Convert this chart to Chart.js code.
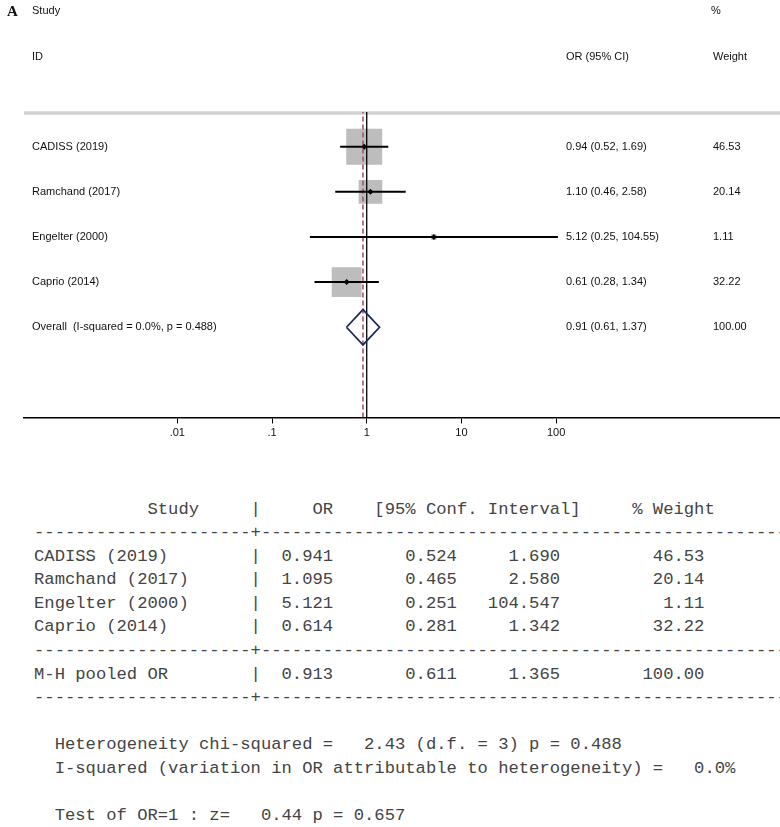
<!DOCTYPE html>
<html>
<head>
<meta charset="utf-8">
<script src="https://cdn.jsdelivr.net/npm/chart.js@4.4.1/dist/chart.umd.min.js"></script>
<style>
  html, body { margin: 0; padding: 0; background: #fff; }
  #wrap { position: relative; width: 780px; height: 827px; overflow: hidden; }
  #forest { position: absolute; left: 0; top: 0; }
  #stata {
    position: absolute; left: 34px; top: 497.5px; margin: 0;
    font-family: "Liberation Mono", "Courier New", monospace;
    font-size: 17.2px; line-height: 23.6px; color: #444; white-space: pre;
  }
</style>
</head>
<body>
<div id="wrap">
  <canvas id="forest" width="780" height="445"></canvas>
  <pre id="stata"></pre>
</div>
<script>
// study data (odds ratios, 95% CI, % weight)
const studies = ['CADISS (2019)', 'Ramchand (2017)', 'Engelter (2000)', 'Caprio (2014)'];
const oddsRatio = [0.941, 1.095, 5.121, 0.614];
const lowerCI = [0.524, 0.465, 0.251, 0.281];
const upperCI = [1.690, 2.580, 104.547, 1.342];
const weights = [46.53, 20.14, 1.11, 32.22];
const ciText = ['0.94 (0.52, 1.69)', '1.10 (0.46, 2.58)', '5.12 (0.25, 104.55)', '0.61 (0.28, 1.34)'];

// pooled estimate
const pooledLabel = 'M-H pooled OR';
const pooledOR = 0.913;
const pooledLower = 0.611;
const pooledUpper = 1.365;
const pooledWeight = 100.00;
const pooledText = '0.91 (0.61, 1.37)';

// heterogeneity / test
const chi2 = 2.43, dfHet = 3, pHet = 0.488, iSquared = 0.0;
const zTest = 0.44, pTest = 0.657;

// axis
const xTicks = [0.01, 0.1, 1, 10, 100];
const xTickLabels = ['.01', '.1', '1', '10', '100'];

const X_MIN = Math.pow(10, -3.619);
const X_MAX = Math.pow(10, 4.364);
const Y_MAX = 6.77;
const DIAMOND_H = 0.39;
const SANS = '"Liberation Sans", Arial, sans-serif';

const rowOf = i => studies.length + 2 - i;   // top row first
const pooledRow = 2;

const boxData = studies.map((s, i) => ({ x: oddsRatio[i], y: rowOf(i) }));
const ciData = [];
studies.forEach((s, i) => {
  ciData.push({ x: lowerCI[i], y: rowOf(i) }, { x: upperCI[i], y: rowOf(i) }, { x: null, y: null });
});
const diamondData = [
  { x: pooledLower, y: pooledRow },
  { x: pooledOR, y: pooledRow + DIAMOND_H },
  { x: pooledUpper, y: pooledRow },
  { x: pooledOR, y: pooledRow - DIAMOND_H },
  { x: pooledLower, y: pooledRow }
];

const forestText = {
  id: 'forestText',
  beforeDatasetsDraw(chart) {
    const { ctx, chartArea } = chart;
    ctx.save();
    ctx.strokeStyle = '#d2d2d2';
    ctx.lineWidth = 3.5;
    ctx.beginPath();
    ctx.moveTo(chartArea.left, chartArea.top + 1);
    ctx.lineTo(chartArea.right, chartArea.top + 1);
    ctx.stroke();
    ctx.restore();
  },
  afterDraw(chart) {
    const ctx = chart.ctx;
    const y = chart.scales.y;
    ctx.save();
    ctx.fillStyle = '#111';
    ctx.textBaseline = 'middle';
    ctx.textAlign = 'left';
    ctx.font = 'bold 15px "Liberation Serif", "Times New Roman", serif';
    ctx.fillText('A', 7, 12);
    ctx.font = '11px ' + SANS;
    ctx.fillText('Study', 32, 11);
    ctx.fillText('ID', 32, 57);
    ctx.fillText('%', 711, 11);
    ctx.fillText('OR (95% CI)', 566, 57);
    ctx.fillText('Weight', 713, 57);
    studies.forEach((s, i) => {
      const py = y.getPixelForValue(rowOf(i));
      ctx.fillText(s, 32, py);
      ctx.fillText(ciText[i], 566, py);
      ctx.fillText(weights[i].toFixed(2), 713, py);
    });
    const pp = y.getPixelForValue(pooledRow);
    ctx.fillText('Overall  (I-squared = ' + iSquared.toFixed(1) + '%, p = ' + pHet.toFixed(3) + ')', 32, pp);
    ctx.fillText(pooledText, 566, pp);
    ctx.fillText(pooledWeight.toFixed(2), 713, pp);
    ctx.restore();
  }
};

new Chart(document.getElementById('forest'), {
  type: 'scatter',
  data: {
    datasets: [
      {
        data: boxData,
        pointStyle: 'rect',
        pointRadius: c => 3.73 * Math.sqrt(weights[c.dataIndex]),
        backgroundColor: '#bdbdbd',
        borderWidth: 0,
        order: 6
      },
      {
        data: [{ x: 1, y: 0 }, { x: 1, y: Y_MAX }],
        showLine: true,
        borderColor: '#000',
        borderWidth: 1.3,
        pointRadius: 0,
        order: 5
      },
      {
        data: [{ x: pooledOR, y: 0 }, { x: pooledOR, y: Y_MAX }],
        showLine: true,
        borderColor: '#a8546c',
        borderWidth: 1.6,
        borderDash: [5, 3],
        pointRadius: 0,
        order: 4
      },
      {
        data: ciData,
        showLine: true,
        spanGaps: false,
        borderColor: '#000',
        borderWidth: 2,
        pointRadius: 0,
        order: 3
      },
      {
        data: boxData,
        pointStyle: 'rectRot',
        pointRadius: 3,
        backgroundColor: '#000',
        borderWidth: 0,
        order: 2
      },
      {
        data: diamondData,
        showLine: true,
        borderColor: '#1d2b5e',
        borderWidth: 1.8,
        borderJoinStyle: 'miter',
        pointRadius: 0,
        fill: false,
        order: 1
      }
    ]
  },
  options: {
    responsive: false,
    animation: false,
    events: [],
    layout: { autoPadding: false, padding: { top: 112, left: 24, right: 0, bottom: 2.3 } },
    plugins: { legend: { display: false }, tooltip: { enabled: false } },
    scales: {
      x: {
        type: 'logarithmic',
        min: X_MIN,
        max: X_MAX,
        afterBuildTicks: s => { s.ticks = xTicks.map(v => ({ value: v })); },
        afterFit: s => { s.paddingLeft = 0; s.paddingRight = 0; },
        ticks: {
          callback: (v, i) => xTickLabels[i],
          font: { family: SANS, size: 11 },
          color: '#111',
          padding: 3,
          autoSkip: false,
          maxRotation: 0
        },
        grid: { display: true, drawOnChartArea: false, drawTicks: true, tickLength: 6, color: '#000', lineWidth: 1 },
        border: { display: true, color: '#000', width: 1.5 }
      },
      y: { type: 'linear', min: 0, max: Y_MAX, display: false }
    }
  },
  plugins: [forestText]
});

// Stata-style text table under the plot
const pad = (s, n) => String(s).padStart(n);
const dash = '-'.repeat(21) + '+' + '-'.repeat(51);
const row = (name, o, l, u, w) =>
  name.padEnd(21) + '|' + pad(o.toFixed(3), 7) + pad(l.toFixed(3), 12) + pad(u.toFixed(3), 10) + pad(w.toFixed(2), 14);
const lines = [];
lines.push(' '.repeat(11) + 'Study' + ' '.repeat(5) + '|' + pad('OR', 7) + '    [95% Conf. Interval]' + '     % Weight');
lines.push(dash);
studies.forEach((s, i) => lines.push(row(s, oddsRatio[i], lowerCI[i], upperCI[i], weights[i])));
lines.push(dash);
lines.push(row(pooledLabel, pooledOR, pooledLower, pooledUpper, pooledWeight));
lines.push(dash);
lines.push('');
lines.push('  Heterogeneity chi-squared =' + pad(chi2.toFixed(2), 7) + ' (d.f. = ' + dfHet + ') p = ' + pHet.toFixed(3));
lines.push('  I-squared (variation in OR attributable to heterogeneity) =' + pad(iSquared.toFixed(1), 6) + '%');
lines.push('');
lines.push('  Test of OR=1 : z=' + pad(zTest.toFixed(2), 7) + ' p = ' + pTest.toFixed(3));
document.getElementById('stata').textContent = lines.join('\n');
</script>
</body>
</html>
